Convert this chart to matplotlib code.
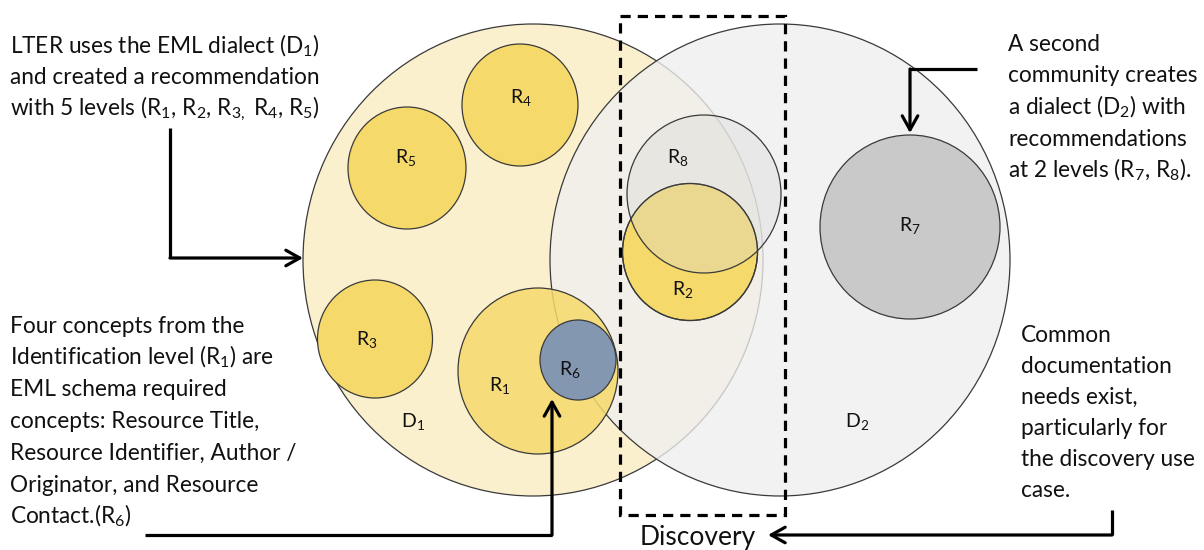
import matplotlib
matplotlib.use('Agg')
import matplotlib.pyplot as plt
from matplotlib.patches import Ellipse, Rectangle

plt.rcParams['font.family'] = ['Lato', 'DejaVu Sans']
plt.rcParams['mathtext.default'] = 'regular'

# circles, in drawing order (canvas pixel coords, y down)
circle_names = ['D1', 'R3', 'R4', 'R5', 'D2', 'R1', 'R6', 'R2', 'R8', 'R7']
circle_x = [533, 375, 520, 407, 780, 538, 578, 690, 704, 910]
circle_y = [260, 339, 105, 168, 260, 371, 360, 252, 194, 227]
circle_w = [460, 115, 116, 118, 460, 160, 76, 135, 154, 180]
circle_h = [472, 118, 122, 122, 472, 166, 80, 137, 158, 184]

# labels inside the circles
label_text = ['D$_1$', 'R$_3$', 'R$_4$', 'R$_5$', 'D$_2$', 'R$_1$', 'R$_6$', 'R$_2$', 'R$_8$', 'R$_7$']
label_x = [413, 367, 521, 406, 857, 500, 570, 683, 678, 910]
label_y = [422, 340, 98, 158, 422, 386, 370, 290, 158, 226]

# side notes
note_top_left = ['LTER uses the EML dialect (D$_1$)',
                 'and created a recommendation',
                 'with 5 levels (R$_1$, R$_2$, R$_{3,}$ R$_4$, R$_5$)']
note_top_right = ['A second',
                  'community creates',
                  'a dialect (D$_2$) with',
                  'recommendations',
                  'at 2 levels (R$_7$, R$_8$).']
note_bottom_left = ['Four concepts from the',
                    'Identification level (R$_1$) are',
                    'EML schema required',
                    'concepts: Resource Title,',
                    'Resource Identifier, Author /',
                    'Originator, and Resource',
                    'Contact.(R$_6$)']
note_bottom_right = ['Common',
                     'documentation',
                     'needs exist,',
                     'particularly for',
                     'the discovery use',
                     'case.']

# elbow arrows (last point = arrow tip)
arrows = [
    [(170, 128), (170, 258), (303, 258)],
    [(977, 69), (910, 69), (910, 133)],
    [(145, 535), (552, 535), (552, 399)],
    [(1112, 510), (1112, 535), (768, 535)],
]

style = {
    'D1': dict(fc='#FBF0CE', alpha=1.0),
    'D2': dict(fc='#EFEFEF', alpha=0.78),
    'R1': dict(fc='#F6D96B', alpha=0.85),
    'R2': dict(fc='#F6D96B', alpha=1.0),
    'R3': dict(fc='#F6D96B', alpha=1.0),
    'R4': dict(fc='#F6D96B', alpha=1.0),
    'R5': dict(fc='#F6D96B', alpha=1.0),
    'R6': dict(fc='#8497B0', alpha=1.0),
    'R7': dict(fc='#C9C9C9', alpha=1.0),
    'R8': dict(fc='#D6D6D6', alpha=0.35),
}

fig = plt.figure(figsize=(12.04, 5.5), dpi=100)
ax = fig.add_axes([0, 0, 1, 1])
ax.set_xlim(0, 1204)
ax.set_ylim(550, 0)
ax.axis('off')

for i, name in enumerate(circle_names):
    s = style[name]
    ax.add_patch(Ellipse((circle_x[i], circle_y[i]), circle_w[i], circle_h[i],
                         facecolor=s['fc'], alpha=s['alpha'], edgecolor='none', zorder=i + 1))
    ax.add_patch(Ellipse((circle_x[i], circle_y[i]), circle_w[i], circle_h[i],
                         facecolor='none', edgecolor='#3a3a3a', lw=0.9, zorder=i + 1))

# R2 outline again so it shows through R8
k = circle_names.index('R2')
ax.add_patch(Ellipse((circle_x[k], circle_y[k]), circle_w[k], circle_h[k],
                     facecolor='none', edgecolor='#3a3a3a', lw=0.9, zorder=20))

for t, x, y in zip(label_text, label_x, label_y):
    ax.text(x, y, t, fontsize=14, ha='center', va='center', color='#111111', zorder=30)

# dashed "Discovery" box
ax.add_patch(Rectangle((620, 16), 165, 499, facecolor='none', edgecolor='black',
                       lw=2.3, linestyle=(0, (3.2, 2.2)), zorder=40))
ax.text(698, 545, 'Discovery', fontsize=19, ha='center', va='baseline', color='#111111')


def note(lines, x, y0, dy):
    for j, line in enumerate(lines):
        ax.text(x, y0 + j * dy, line, fontsize=16.3, ha='left', va='baseline', color='#111111')


note(note_top_left, 10, 53, 31)
note(note_top_right, 1008, 51, 31.5)
note(note_bottom_left, 10, 333, 31.7)
note(note_bottom_right, 1021, 342, 31)

for pts in arrows:
    xs = [p[0] for p in pts[:-1]]
    ys = [p[1] for p in pts[:-1]]
    ax.plot(xs, ys, color='black', lw=2.3, solid_capstyle='butt', zorder=50)
    ax.annotate('', xy=pts[-1], xytext=pts[-2],
                arrowprops=dict(arrowstyle='->,head_length=0.5,head_width=0.28',
                                color='black', lw=2.3, mutation_scale=20,
                                shrinkA=0, shrinkB=0), zorder=50)

fig.savefig('out.png', dpi=100)
